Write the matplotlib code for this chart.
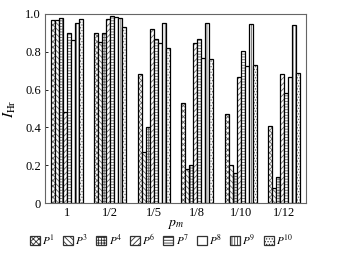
import matplotlib
matplotlib.use("Agg")
import matplotlib.pyplot as plt
import numpy as np

plt.rcParams['font.family'] = ['Liberation Serif', 'DejaVu Serif']
plt.rcParams['mathtext.fontset'] = 'stix'
plt.rcParams['hatch.linewidth'] = 0.6

categories = ["1", "1/2", "1/5", "1/8", "1/10", "1/12"]
series_names = ["$P^{1}$", "$P^{3}$", "$P^{4}$", "$P^{6}$", "$P^{7}$", "$P^{8}$", "$P^{9}$", "$P^{10}$"]
P1 = [0.97, 0.90, 0.68, 0.53, 0.47, 0.41]
P3 = [0.97, 0.85, 0.27, 0.18, 0.20, 0.08]
P4 = [0.98, 0.90, 0.40, 0.20, 0.16, 0.14]
P6 = [0.48, 0.975, 0.92, 0.845, 0.665, 0.68]
P7 = [0.90, 0.99, 0.865, 0.865, 0.805, 0.58]
P8 = [0.86, 0.985, 0.845, 0.765, 0.725, 0.665]
P9 = [0.95, 0.98, 0.95, 0.95, 0.945, 0.94]
P10 = [0.975, 0.93, 0.82, 0.76, 0.73, 0.69]
series = [P1, P3, P4, P6, P7, P8, P9, P10]
hatches = ['xxxxxx', '\\\\\\\\\\\\', '++++++', '//////', '------', '', '||||||', '......']

fig = plt.figure(figsize=(3.44, 2.58), dpi=100)
ax = fig.add_axes([0.131, 0.213, 0.759, 0.733])
x = np.arange(len(categories))
w = 0.092
n = len(series)
handles = []
for i, (vals, h, lab) in enumerate(zip(series, hatches, series_names)):
    pos = x + (i - (n - 1) / 2) * w
    ax.bar(pos, vals, width=w, facecolor='white', edgecolor='#666666',
           hatch=h, linewidth=0)
    b = ax.bar(pos, vals, width=w, facecolor='none', edgecolor='black',
               linewidth=0.9)
    handles.append(plt.Rectangle((0, 0), 1, 1, facecolor='white',
                                 edgecolor='#333333', hatch=h, linewidth=0.9))

ax.set_xlim(-0.5, 5.5)
ax.set_ylim(0, 1.0)
ax.set_yticks([0, 0.2, 0.4, 0.6, 0.8, 1.0])
ax.set_yticklabels(["0", "0.2", "0.4", "0.6", "0.8", "1.0"])
ax.set_xticks(x)
ax.set_xticklabels(categories)
ax.tick_params(axis='both', labelsize=9, length=2, width=0.6, direction='in', pad=3)
for s in ax.spines.values():
    s.set_linewidth(0.8)
    s.set_color('#666666')
ax.set_xlabel("$p_{m}$", fontsize=10, labelpad=-1)
ax.set_ylabel("$I_{\\mathrm{Hr}}$", fontsize=11, labelpad=5)

fig.legend(handles, series_names, loc='center', bbox_to_anchor=(0.47, 0.07),
           ncol=8, frameon=False, fontsize=8, handlelength=0.9,
           handleheight=0.9, handletextpad=0.2, columnspacing=0.7,
           borderaxespad=0)
fig.savefig("out.png", dpi=100)
